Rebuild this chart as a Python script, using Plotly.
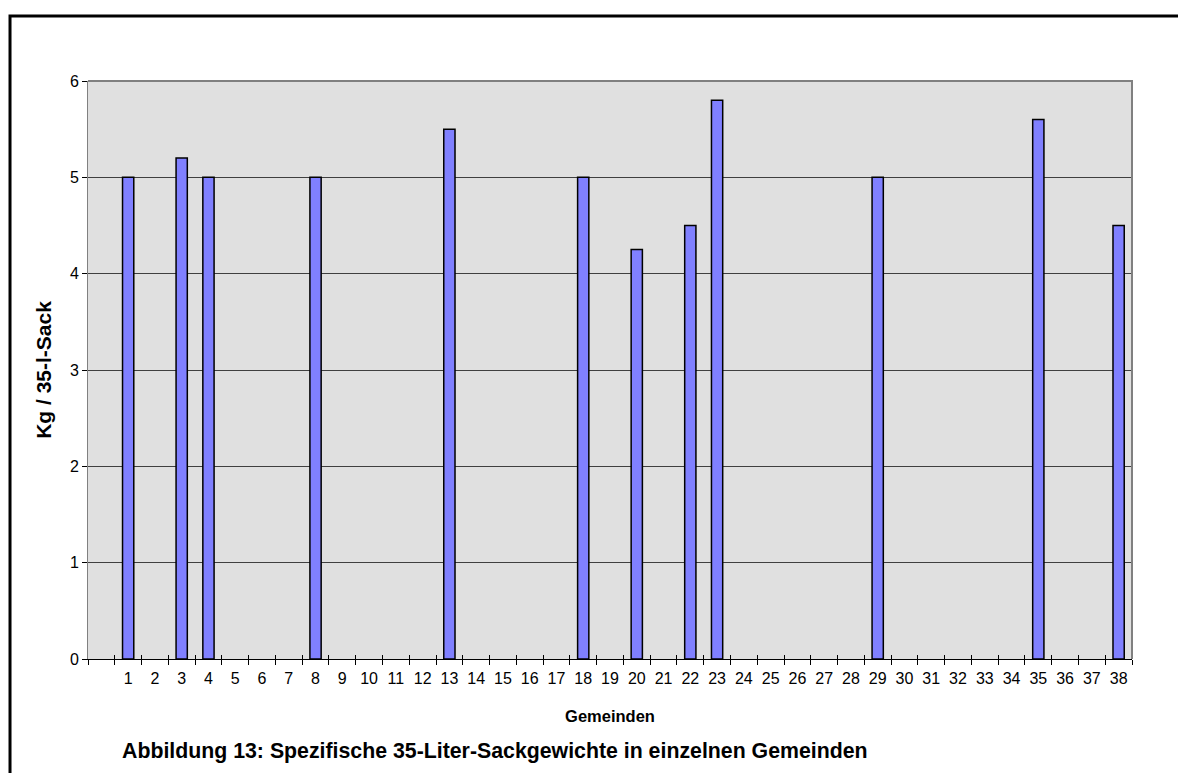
import plotly.graph_objects as go

# Gemeinden (first slot on the axis is left unlabeled)
gemeinden = [" "] + [str(i) for i in range(1, 39)]

# Specific weight per 35-litre sack (kg); communities without data stay empty
gemeinde_ids = ["1", "3", "4", "8", "13", "18", "20", "22", "23", "29", "35", "38"]
sack_kg = [5.0, 5.2, 5.0, 5.0, 5.5, 5.0, 4.25, 4.5, 5.8, 5.0, 5.6, 4.5]

y_ticks = [0, 1, 2, 3, 4, 5, 6]

FONT = "Arial, Liberation Sans, Helvetica, sans-serif"
TICK_SIZE = 16

fig = go.Figure()
fig.add_trace(go.Bar(
    x=gemeinde_ids,
    y=sack_kg,
    width=0.42,
    marker=dict(color="#8080FF", line=dict(color="#000000", width=1.5)),
    xaxis="x",
    yaxis="y",
    showlegend=False,
))
# invisible helper trace for the inner half of the crossing x ticks
fig.add_trace(go.Bar(x=gemeinden, y=[None] * len(gemeinden), xaxis="x2", yaxis="y",
                     showlegend=False, hoverinfo="skip"))

fig.update_layout(
    width=1178,
    height=773,
    margin=dict(l=88, r=46, t=81, b=114),
    paper_bgcolor="#FFFFFF",
    plot_bgcolor="#E0E0E0",
    font=dict(family=FONT, size=TICK_SIZE, color="#000000"),
    bargap=0.58,
    xaxis=dict(
        type="category",
        categoryorder="array",
        categoryarray=gemeinden,
        range=[-0.5, len(gemeinden) - 0.5],
        tickmode="array",
        tickvals=gemeinden,
        ticktext=gemeinden,
        tickangle=0,
        tickson="boundaries",
        ticks="outside",
        ticklen=5,
        tickwidth=1,
        tickcolor="#000000",
        ticklabelstandoff=5,
        showline=True,
        linecolor="#000000",
        linewidth=1,
        showgrid=False,
        tickfont=dict(family=FONT, size=TICK_SIZE),
        title=dict(text="<b>Gemeinden</b>", font=dict(family=FONT, size=16.5), standoff=24),
    ),
    xaxis2=dict(
        type="category",
        categoryorder="array",
        categoryarray=gemeinden,
        range=[-0.5, len(gemeinden) - 0.5],
        overlaying="x",
        tickson="boundaries",
        ticks="inside",
        ticklen=4,
        tickwidth=1,
        tickcolor="#000000",
        showticklabels=False,
        showgrid=False,
        showline=False,
        anchor="y",
    ),
    yaxis=dict(
        range=[0, 6],
        tickmode="array",
        tickvals=y_ticks,
        ticks="outside",
        ticklen=5,
        tickwidth=1,
        tickcolor="#000000",
        showline=True,
        linecolor="#808080",
        linewidth=1,
        showgrid=True,
        gridcolor="#404040",
        gridwidth=1,
        zeroline=False,
        tickfont=dict(family=FONT, size=TICK_SIZE),
        title=dict(text="<b>Kg / 35-l-Sack</b>", font=dict(family=FONT, size=21), standoff=12),
    ),
    shapes=[
        # grey border on top and right of the plot area
        dict(type="path", xref="paper", yref="paper",
             path="M 0 1 L 1 1 L 1 0", line=dict(color="#808080", width=2), layer="above"),
        # page frame
        dict(type="path", xref="paper", yref="paper",
             path="M -0.0747 -0.3 L -0.0747 1.1125 L 1.1 1.1125",
             line=dict(color="#000000", width=3)),
    ],
    annotations=[
        dict(text="<b>Abbildung 13: Spezifische 35-Liter-Sackgewichte in einzelnen Gemeinden</b>",
             xref="paper", yref="paper", x=(120 - 88) / 1044, y=(659 - 751) / 578,
             xanchor="left", yanchor="middle", showarrow=False,
             font=dict(family=FONT, size=21.3, color="#000000")),
    ],
)

fig.write_html("out.html")
